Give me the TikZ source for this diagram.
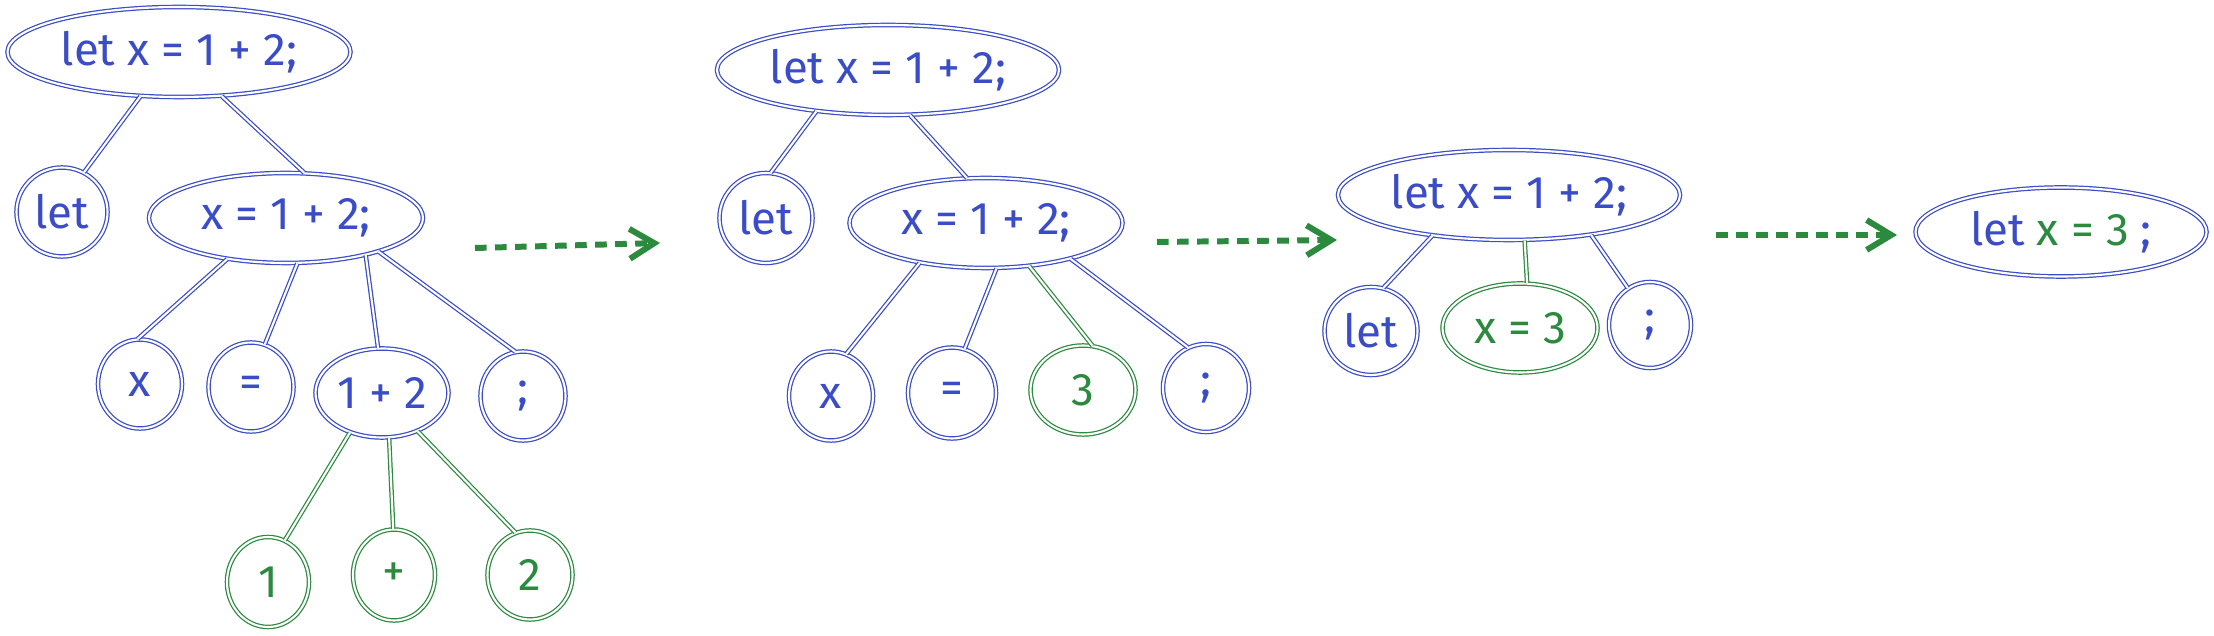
\documentclass[tikz,border=0pt]{standalone}
\usepackage{fontspec}
\setmainfont{Fira Sans}
\usetikzlibrary{shapes.geometric,arrows.meta}
\definecolor{inkblue}{HTML}{3B4CC7}
\definecolor{inkgreen}{HTML}{2B8A3E}

\tikzset{
  blob/.style={ellipse,draw=inkblue,text=inkblue,line width=0.35pt,double,double distance=0.6pt,
    inner sep=0pt,font=\fontsize{13}{15}\selectfont},
  tok/.style={blob,minimum width=8.6mm,minimum height=8.9mm},
  gblob/.style={draw=inkgreen,text=inkgreen},
  link/.style={draw=inkblue,line width=0.35pt,double,double distance=0.6pt},
  glink/.style={link,draw=inkgreen},
  rewrite/.style={->,inkgreen,line width=1.7pt,dash pattern=on 3.3pt off 2.4pt}
}

\begin{document}
\begin{tikzpicture}[>={Straight Barb[length=7pt,width=8.5pt]}]
  \useasboundingbox (0,0) rectangle (22.14,-6.36);

  % first tree
  \node[blob,minimum width=34.3mm,minimum height=9mm] (root1) at (1.79,-0.52) {let x = 1 + 2;};
  \node[tok,minimum width=9.1mm] (let1) at (0.62,-2.12) {let};
  \node[blob,minimum width=27.4mm,minimum height=9mm] (mid1) at (2.86,-2.18) {x = 1 + 2;};
  \node[tok,minimum width=8.4mm] (x1) at (1.40,-3.84) {x};
  \node[tok,minimum width=8.5mm] (eq1) at (2.51,-3.87) {=};
  \node[blob,minimum width=13.3mm,minimum height=8.9mm] (sum1) at (3.82,-3.93) {1 + 2};
  \node[tok,minimum width=8.5mm] (semi1) at (5.23,-3.96) {;};
  \node[tok,gblob,minimum width=8.2mm,minimum height=9mm] (one1) at (2.68,-5.82) {1};
  \node[tok,gblob,minimum width=8.2mm,minimum height=9.1mm] (plus1) at (3.94,-5.75) {+};
  \node[tok,gblob,minimum width=8.5mm] (two1) at (5.30,-5.75) {2};
  \draw[link] (root1.229) -- (let1.61);
  \draw[link] (root1.-46) -- (mid1.68);
  \draw[link] (mid1.215) -- (x1.93);
  \draw[link] (mid1.-76) -- (eq1.72);
  \draw[link] (mid1.-25) -- (sum1.95);
  \draw[link] (mid1.-20) -- (semi1.100);
  \draw[glink] (sum1.231) -- (one1.68);
  \draw[glink] (sum1.-81) -- (plus1.91);
  \draw[glink] (sum1.-47) -- (two1.109);

  \coordinate (a1) at (4.75,-2.48);
  \coordinate (b1) at (6.60,-2.43);
  \draw[rewrite] (a1) -- (b1);

  % second tree
  \node[blob,minimum width=34.2mm,minimum height=9mm] (root2) at (8.88,-0.70) {let x = 1 + 2;};
  \node[tok,minimum width=9.3mm,minimum height=9mm] (let2) at (7.66,-2.18) {let};
  \node[blob,minimum width=27.3mm,minimum height=9mm] (mid2) at (9.86,-2.23) {x = 1 + 2;};
  \node[tok,minimum width=8.4mm] (x2) at (8.31,-3.96) {x};
  \node[tok,minimum width=8.8mm,minimum height=9.1mm] (eq2) at (9.52,-3.93) {=};
  \node[tok,gblob,minimum width=10.5mm] (three2) at (10.83,-3.90) {3};
  \node[tok,minimum width=8.6mm,minimum height=8.8mm] (semi2) at (12.06,-3.88) {;};
  \draw[link] (root2.210) -- (let2.84);
  \draw[link] (root2.-64) -- (mid2.113);
  \draw[link] (mid2.211) -- (x2.70);
  \draw[link] (mid2.-77) -- (eq2.74);
  \draw[glink] (mid2.-45) -- (three2.78);
  \draw[link] (mid2.-23) -- (semi2.114);

  \coordinate (a2) at (11.57,-2.42);
  \coordinate (b2) at (13.37,-2.40);
  \draw[rewrite] (a2) -- (b2);

  % third tree
  \node[blob,minimum width=34.2mm,minimum height=9mm] (root3) at (15.09,-1.95) {let x = 1 + 2;};
  \node[tok,minimum width=9.3mm,minimum height=8.8mm] (let3) at (13.71,-3.31) {let};
  \node[blob,gblob,minimum width=15.5mm,minimum height=8.9mm] (asg3) at (15.20,-3.28) {x = 3};
  \node[tok,minimum width=8.2mm,minimum height=8.6mm] (semi3) at (16.50,-3.25) {;};
  \draw[link] (root3.208) -- (let3.74);
  \draw[glink] (root3.-71) -- (asg3.81);
  \draw[link] (root3.-26) -- (semi3.121);

  \coordinate (a3) at (17.16,-2.35);
  \coordinate (b3) at (18.97,-2.35);
  \draw[rewrite] (a3) -- (b3);

  % result
  \node[blob,minimum width=29.1mm,minimum height=8.9mm] (res) at (20.61,-2.32)
    {let \textcolor{inkgreen}{x = 3} ;};
\end{tikzpicture}
\end{document}
